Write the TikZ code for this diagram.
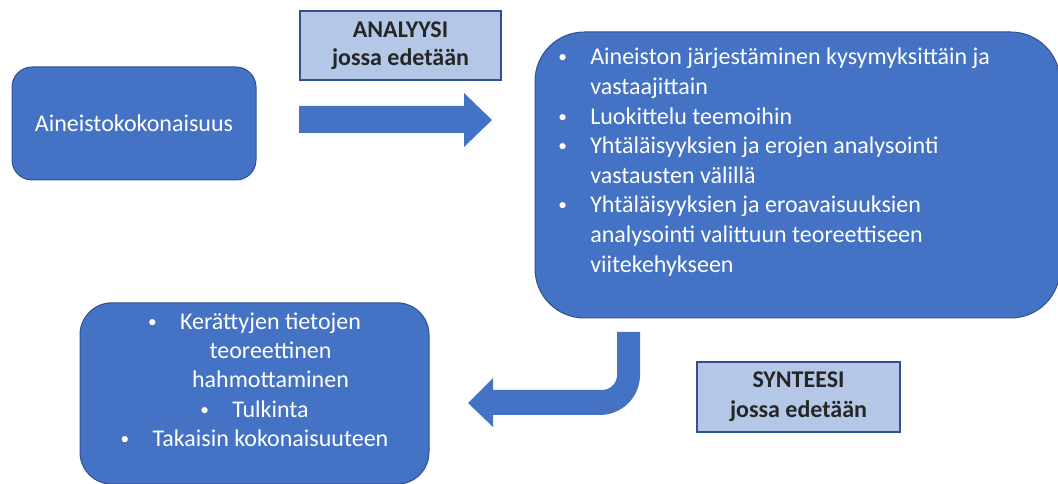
\documentclass[tikz,border=0pt]{standalone}
\usepackage{fontspec}
\setmainfont{Carlito}
\definecolor{boxblue}{HTML}{4472C4}
\definecolor{boxline}{HTML}{2F528F}
\definecolor{tagblue}{HTML}{B4C7E7}
\newcommand\stepbullet{\makebox[24pt][l]{\raisebox{1.6pt}{\fontsize{13}{13}\selectfont\textbullet}}}
\newcommand\stepindent{\hspace*{24pt}}
\begin{document}
\begin{tikzpicture}[x=0.75pt,y=-0.75pt,
  panel/.style={draw=boxline, fill=boxblue, line width=0.75pt, inner sep=0pt,
    text=white, font=\fontsize{18}{22}\selectfont},
  tag/.style={draw=boxline, fill=tagblue, line width=1pt, inner sep=0pt,
    align=center, text=black!85, font=\bfseries\fontsize{18}{21.5}\selectfont},
  listline/.style={text=white, inner sep=0pt, font=\fontsize{18}{22}\selectfont},
  flow/.style={fill=boxblue}]
\useasboundingbox (0,0) rectangle (1058,484);

% boxes
\node[panel, rounded corners=15pt, minimum width=183pt, minimum height=84.75pt]
  (src) at (134,123.5) {Aineistokokonaisuus};
\node[panel, rounded corners=37pt, minimum width=393.75pt, minimum height=214.5pt]
  (analysis) at (797.5,175) {};
\node[panel, rounded corners=24pt, minimum width=261.75pt, minimum height=136pt]
  (synthesis) at (254.5,393.5) {};
\node[tag, minimum width=150.75pt, minimum height=51.75pt]
  (tagA) at (400.5,45.5) {ANALYYSI\\jossa edetään};
\node[tag, minimum width=152.25pt, minimum height=52.5pt, font=\bfseries\fontsize{18}{22.5}\selectfont]
  (tagS) at (798.5,397) {SYNTEESI\\jossa edetään};

% analysis steps
\begin{scope}[every node/.style={listline, anchor=base west}]
\node (a1) at (558,65)    {\stepbullet Aineiston järjestäminen kysymyksittäin ja};
\node (a2) at (558,94.6)  {\stepindent vastaajittain};
\node (a3) at (558,124.2) {\stepbullet Luokittelu teemoihin};
\node (a4) at (558,153.8) {\stepbullet Yhtäläisyyksien ja erojen analysointi};
\node (a5) at (558,183.4) {\stepindent vastausten välillä};
\node (a6) at (558,213)   {\stepbullet Yhtäläisyyksien ja eroavaisuuksien};
\node (a7) at (558,242.6) {\stepindent analysointi valittuun teoreettiseen};
\node (a8) at (558,272.2) {\stepindent viitekehykseen};
\end{scope}

% synthesis steps, centred lines
\begin{scope}[every node/.style={listline, anchor=base}]
\node (s1) at (254.5,329.3) {\stepbullet Kerättyjen tietojen};
\node (s2) at (254.5,358.7) {\stepindent teoreettinen};
\node (s3) at (254.5,388)   {\stepindent hahmottaminen};
\node (s4) at (254.5,417.4) {\stepbullet Tulkinta};
\node (s5) at (254.5,446.7) {\stepbullet Takaisin kokonaisuuteen};
\end{scope}

% block arrow: whole -> analysis
\fill[flow] (299,106) -- (464,106) -- (464,93) -- (492,120) -- (464,147)
  -- (464,133) -- (299,133) -- cycle;

% bent block arrow: analysis -> synthesis
\fill[flow] (617,332) -- (640,332) -- (640,375)
  .. controls (640,397) and (622,415) .. (600,415)
  -- (493,415) -- (493,427) -- (468,403) -- (493,378) -- (493,390)
  -- (602,390) .. controls (610.3,390) and (617,383.3) .. (617,375) -- cycle;
\end{tikzpicture}
\end{document}
